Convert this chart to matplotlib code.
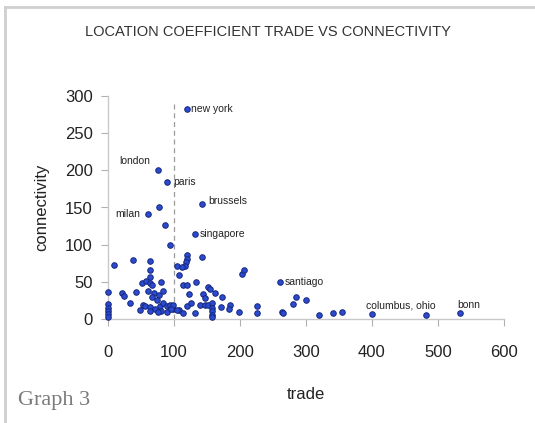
import numpy as np
import matplotlib
matplotlib.use('Agg')
import matplotlib.pyplot as plt
from matplotlib.lines import Line2D

plt.rcParams['font.family'] = ['Liberation Sans', 'DejaVu Sans']

# unlabelled cities: trade (location coefficient) vs connectivity
trade = [0, 0, 0, 0, 0, 0,
         9, 38, 63, 63, 63, 105, 108,
         51, 58, 64, 66, 81,
         21, 24, 43, 61, 69, 78, 84, 66, 74,
         34, 53, 56, 64, 71, 79, 84, 89, 94, 99, 107,
         81, 89, 76, 63, 48,
         119, 119, 118, 117, 143, 112,
         203, 206,
         114, 119, 133, 152, 155, 144, 162, 172, 122, 125, 119, 99, 96, 104, 114, 132,
         139, 147, 152,
         158, 158, 158, 158, 158, 147, 171, 185, 184, 199,
         226, 226, 263, 265, 280, 285, 300, 319, 341, 355, 482,
         77, 86, 94]
connectivity = [36, 20, 15, 11, 7, 3,
                73, 79, 78, 66, 56, 71, 59,
                48, 51, 49, 46, 50,
                35, 31, 36, 38, 35, 32, 37, 30, 26,
                22, 19, 17, 16, 14, 17, 21, 17, 19, 14, 12,
                11, 10, 10, 11, 12,
                86, 81, 77, 71, 83, 70,
                60, 66,
                46, 46, 50, 43, 40, 34, 35, 29, 34, 21, 17, 19, 13, 12, 8, 8,
                19, 19, 19,
                21, 15, 11, 5, 3, 28, 16, 19, 14, 10,
                17, 8, 10, 8, 20, 29, 25, 5, 8, 10, 5,
                151, 127, 100]

# labelled cities
cities = ['new york', 'london', 'paris', 'brussels', 'milan', 'singapore',
          'santiago', 'columbus, ohio', 'bonn']
city_trade = [120, 75, 90, 143, 60, 132, 261, 400, 534]
city_conn = [282, 200, 184, 155, 141, 114, 50, 7, 8]
# label offsets in points and alignment
offsets = {'new york': (3, 0, 'left', 'center'),
           'london': (-5, 7, 'right', 'center'),
           'paris': (4, 0, 'left', 'center'),
           'brussels': (4, 2, 'left', 'center'),
           'milan': (-5, 0, 'right', 'center'),
           'singapore': (3, 0, 'left', 'center'),
           'santiago': (3, 0, 'left', 'center'),
           'columbus, ohio': (-4, 6, 'left', 'center'),
           'bonn': (-2, 6, 'left', 'center')}

fig = plt.figure(figsize=(5.35, 4.23), dpi=100)
ax = fig.add_axes([108 / 535, 1 - 319 / 423, 396 / 535, 223 / 423])

dot = dict(s=16, c='#2a4bd0', edgecolors='#17267a', linewidths=0.7, zorder=3, clip_on=False)
ax.scatter(trade, connectivity, **dot)
ax.scatter(city_trade, city_conn, **dot)

for name, xv, yv in zip(cities, city_trade, city_conn):
    dx, dy, ha, va = offsets[name]
    ax.annotate(name, (xv, yv), xytext=(dx, dy), textcoords='offset points',
                ha=ha, va=va, fontsize=7.5, color='#222222')

ax.vlines(100, 0, 290, colors='#9a9a9a', linestyles=(0, (4, 3)), linewidth=0.9, zorder=1)

ax.set_xlim(0, 600)
ax.set_ylim(0, 300)
ax.set_xticks(np.arange(0, 601, 100))
ax.set_yticks(np.arange(0, 301, 50))
for s in ['top', 'right']:
    ax.spines[s].set_visible(False)
for s in ['left', 'bottom']:
    ax.spines[s].set_color('#c8c8c8')
    ax.spines[s].set_linewidth(1.0)
ax.tick_params(axis='both', colors='#b0b0b0', labelcolor='#222222', labelsize=12,
               length=5, width=0.8, direction='out')
ax.tick_params(axis='x', pad=14)
ax.tick_params(axis='y', pad=6)

ax.set_xlabel('trade', fontsize=12, color='#222222', labelpad=19)
ax.set_ylabel('connectivity', fontsize=12, color='#222222', labelpad=11)

fig.text(0.5, 1 - 32 / 423, 'LOCATION COEFFICIENT TRADE VS CONNECTIVITY',
         ha='center', va='center', fontsize=10.5, color='#333333')
fig.text(18 / 535, 1 - 400 / 423, 'Graph 3', ha='left', va='center',
         fontsize=16, color='#7a7a7a', family=['Liberation Serif', 'DejaVu Serif'])

# frame around the picture
fig.add_artist(Line2D([5 / 535, 1], [1 - 7 / 423, 1 - 7 / 423], transform=fig.transFigure,
                      color='#cfcfcf', linewidth=2))
fig.add_artist(Line2D([5 / 535, 5 / 535], [0, 1 - 7 / 423], transform=fig.transFigure,
                      color='#cfcfcf', linewidth=2))

fig.savefig('out.png', dpi=100)
